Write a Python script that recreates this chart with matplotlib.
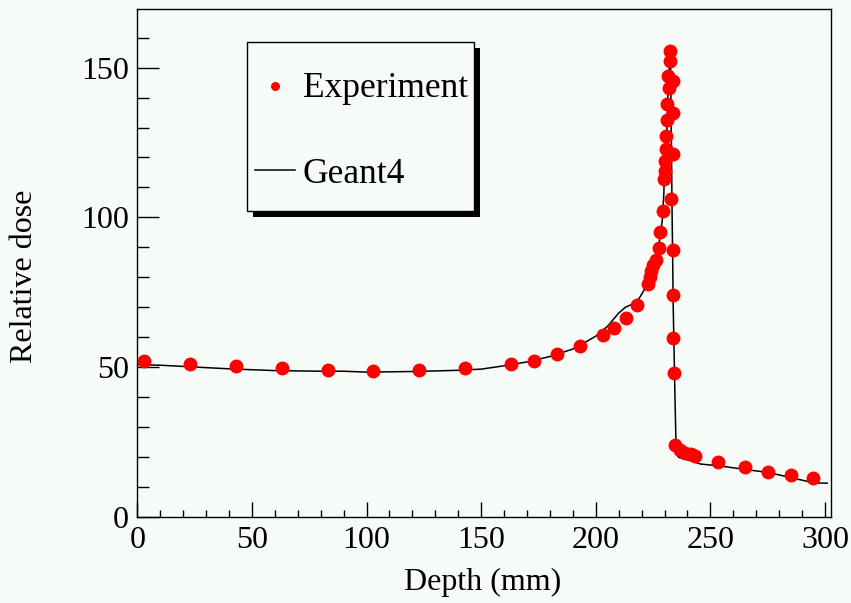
import matplotlib
matplotlib.use('Agg')

import matplotlib.pyplot as plt
from matplotlib.patches import Rectangle
from matplotlib.lines import Line2D
from matplotlib.ticker import MultipleLocator

# Experiment points (depth in mm, relative dose)
exp_depth = [3, 23, 43, 63, 83, 103, 123, 143, 163, 173, 183, 193,
             203, 208, 213, 218, 223.0, 223.6, 224.2, 225.0, 226.1,
             227.4, 228.0, 229.3, 229.8, 230.0, 230.3, 230.6, 230.6,
             230.9, 230.9, 231.9, 231.4, 232.6, 232.6,
             233.8, 233.8, 233.8, 232.8, 233.6, 233.7, 233.7, 234.3,
             234.7, 236.9, 239.0, 241.4, 243.5, 253.5, 264.9, 275.1,
             285.0, 294.8]
exp_dose = [52.0, 51.1, 50.2, 49.7, 49.1, 48.6, 49.1, 49.7, 51.1, 52.0, 54.5, 56.9,
            60.6, 63.1, 66.3, 70.6, 77.8, 80.0, 82.2, 84.0, 85.6,
            89.8, 95.2, 102.2, 112.8, 115.6, 118.9, 122.8, 127.2,
            132.5, 137.8, 143.3, 147.2, 152.2, 155.6,
            145.6, 135.0, 121.3, 106.1, 89.2, 74.1, 59.7, 48.1,
            23.9, 22.2, 21.3, 20.9, 20.2, 18.2, 16.7, 14.8,
            13.9, 12.8]

# Geant4 simulation curve
g4_depth = [0, 10, 20, 30, 40, 50, 60, 70, 80, 90, 100, 110, 120, 130, 140,
            150, 160, 170, 180, 190, 193, 200, 205, 210, 213, 216, 219,
            221.7, 224.6, 226.8, 227.8, 229.0, 229.7, 230.1, 230.9, 231.2,
            231.6, 232.3, 232.6, 232.8, 233.3, 233.8, 234.5, 235.1, 236.2,
            240, 245.7, 254.8, 264.9, 275.1, 284.9, 295.2, 301]
g4_dose = [50.8, 50.6, 50.2, 49.8, 49.4, 49.1, 48.8, 48.7, 48.6, 48.6, 48.3, 48.4,
           48.5, 48.7, 48.9, 49.3, 50.4, 51.7, 53.5, 56.0, 57.2, 60.3, 63.5,
           68.0, 70.0, 71.0, 73.0, 76.5, 81.1, 86.7, 92.2, 98.9, 107.8, 118.9,
           125.6, 135.0, 145.0, 152.2, 157.2, 139.0, 102.0, 70.0, 42.2, 21.1,
           19.8, 19.0, 17.6, 16.9, 15.8, 14.8, 13.1, 11.3, 11.2]

bg = '#f6fbf8'
W, H = 851, 603

plt.rcParams['font.family'] = ['Liberation Serif', 'DejaVu Serif']

fig = plt.figure(figsize=(W / 100, H / 100), dpi=100, facecolor=bg)
ax = fig.add_axes([137.3 / W, (H - 516.7) / H, 693.4 / W, 507.7 / H], facecolor=bg)

ax.plot(g4_depth, g4_dose, color='black', lw=1.1, zorder=2)
ax.plot(exp_depth, exp_dose, 'o', color='red', ms=10, mec='none', zorder=3)

ax.set_xlim(0, 302.5)
ax.set_ylim(0, 169.6)
ax.xaxis.set_major_locator(MultipleLocator(50))
ax.xaxis.set_minor_locator(MultipleLocator(10))
ax.yaxis.set_major_locator(MultipleLocator(50))
ax.yaxis.set_minor_locator(MultipleLocator(10))
ax.tick_params(axis='x', which='major', direction='in', length=10.8, width=1, pad=7, labelsize=23)
ax.tick_params(axis='x', which='minor', direction='in', length=5.4, width=1)
ax.tick_params(axis='y', which='major', direction='in', length=15.6, width=1, pad=6, labelsize=23)
ax.tick_params(axis='y', which='minor', direction='in', length=8.4, width=1)
for s in ax.spines.values():
    s.set_linewidth(1)

ax.set_xlabel('Depth (mm)', fontsize=23, va='center')
ax.set_ylabel('Relative dose', fontsize=23, va='center', ha='center')
ax.xaxis.set_label_coords(0.4986, -0.13)
ax.yaxis.set_label_coords(-0.163, 0.474)


# legend box with a hard black shadow, drawn in pixel positions
def fx(px):
    return px / W


def fy(py):
    return 1 - py / H


left, top, right, bottom = 246.7, 42.3, 474, 211
fig.patches.append(Rectangle((fx(left + 6), fy(bottom + 6)), fx(right - left), fy(top) - fy(bottom),
                             transform=fig.transFigure, facecolor='black', edgecolor='none', zorder=5))
fig.patches.append(Rectangle((fx(left), fy(bottom)), fx(right - left), fy(top) - fy(bottom),
                             transform=fig.transFigure, facecolor=bg, edgecolor='black', lw=1, zorder=6))
fig.lines.append(Line2D([fx(274.7)], [fy(85.7)], marker='o', color='red', ms=6.5, mec='none',
                        transform=fig.transFigure, zorder=7))
fig.lines.append(Line2D([fx(255), fx(295)], [fy(170), fy(170)], color='black', lw=1.1,
                        transform=fig.transFigure, zorder=7))
fig.text(fx(303), fy(96.7), 'Experiment', fontsize=25.5, va='baseline', ha='left', zorder=8)
fig.text(fx(303), fy(183), 'Geant4', fontsize=25.5, va='baseline', ha='left', zorder=8)

fig.savefig('out.png', dpi=100, facecolor=bg)
